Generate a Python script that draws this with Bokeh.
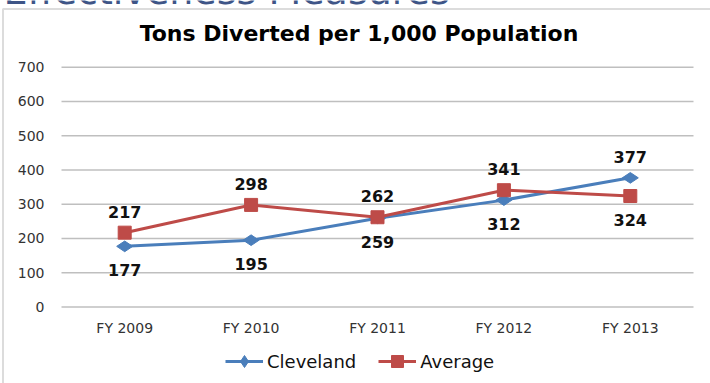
from bokeh.plotting import figure
from bokeh.models import (ColumnDataSource, Range1d, Legend, LegendItem, Label, BoxAnnotation)
from bokeh.core.properties import value
from bokeh.embed import file_html
from bokeh.resources import INLINE
import math

years = ["FY 2009", "FY 2010", "FY 2011", "FY 2012", "FY 2013"]
cleveland = [177, 195, 259, 312, 377]
average = [217, 298, 262, 341, 324]
y_ticks = [0, 100, 200, 300, 400, 500, 600, 700]
cleveland_label_offset = [24, 24, 24, 24, -21]   # + below, - above
average_label_offset = [-21, -21, -21, -21, 24]

BLUE = "#4A7EBB"
RED = "#BE4B48"
FONT = "DejaVu Sans"
TICK = "#333333"

# category centres on a numeric band scale (band i spans i..i+1)
xs = [i + 0.5 for i in range(len(years))]
n = len(years)

p = figure(width=710, height=383,
           x_range=Range1d(-0.4826, n + 0.1345), y_range=Range1d(-223.3, 894.7),
           x_axis_location=None, y_axis_location=None,
           output_backend="svg", toolbar_location=None, title=None,
           min_border=0, background_fill_color="white", border_fill_color="white")
p.outline_line_color = None
p.grid.visible = False

# horizontal gridlines spanning the category bands
p.segment(x0=[0] * len(y_ticks), x1=[n] * len(y_ticks), y0=y_ticks, y1=y_ticks,
          line_color="#BFBFBF", line_width=1.5)

# y tick labels
p.text(x=[0] * len(y_ticks), y=y_ticks, text=[str(t) for t in y_ticks], x_offset=-17,
       text_align="right", text_baseline="middle", text_font=value(FONT),
       text_font_size="14px", text_color=TICK)
# x tick labels
p.text(x=xs, y=[0] * n, text=years, y_offset=21, text_align="center",
       text_baseline="middle", text_font=value(FONT), text_font_size="14px",
       text_color=TICK)

src_c = ColumnDataSource(dict(x=xs, y=cleveland, t=[str(v) for v in cleveland],
                              off=cleveland_label_offset))
src_a = ColumnDataSource(dict(x=xs, y=average, t=[str(v) for v in average],
                              off=average_label_offset))

lc = p.line("x", "y", source=src_c, line_color=BLUE, line_width=3)
mc = p.scatter("x", "y", source=src_c, marker="diamond", size=16, angle=math.pi / 2,
               fill_color=BLUE, line_color=BLUE)
la = p.line("x", "y", source=src_a, line_color=RED, line_width=3)
ma = p.scatter("x", "y", source=src_a, marker="square", size=13,
               fill_color=RED, line_color=RED)

for src in (src_c, src_a):
    p.text("x", "y", text="t", source=src, y_offset="off", text_align="center",
           text_baseline="middle", text_font=value(FONT), text_font_size="16px",
           text_font_style="bold", text_color="#111111")

legend = Legend(items=[LegendItem(label="Cleveland", renderers=[lc, mc]),
                       LegendItem(label="Average", renderers=[la, ma])],
                orientation="horizontal", location=(225, 7),
                padding=0, margin=0, spacing=22, glyph_width=38, glyph_height=30,
                label_standoff=4, label_text_font=FONT,
                label_text_font_size="18px", label_text_color="#111111",
                border_line_color=None, background_fill_alpha=0)
p.add_layout(legend, "center")

# chart area border (left and top edges visible)
p.add_layout(BoxAnnotation(left=2.5, right=900, top=8.5, bottom=900,
                           left_units="canvas", right_units="canvas",
                           bottom_units="canvas", top_units="canvas",
                           fill_alpha=0, line_color="#8C8C8C", line_width=2))

p.add_layout(Label(x=358.5, y=350, x_units="screen", y_units="screen",
                   text="Tons Diverted per 1,000 Population", text_align="center",
                   text_baseline="middle", text_font=FONT, text_font_size="22px",
                   text_font_style="bold", text_color="#000000"))

p.add_layout(Label(x=3, y=393, x_units="screen", y_units="screen",
                   text="Effectiveness Measures", text_align="left",
                   text_baseline="alphabetic", text_font=FONT, text_font_size="38px",
                   text_color="#3E5587"))

open("out.html", "w").write(file_html(p, INLINE))
